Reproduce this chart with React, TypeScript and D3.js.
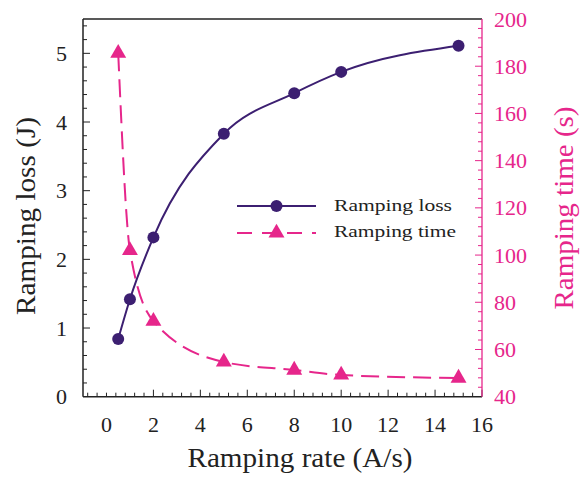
import React from "react";
import * as d3 from "d3";

const rates = [0.5, 1, 2, 5, 8, 10, 15];
const lossValues = [0.84, 1.42, 2.32, 3.83, 4.42, 4.73, 5.11];
const timeValues = [185.5, 102, 72, 54.7, 51.3, 49.2, 47.9];
const xTickLabels = [0, 2, 4, 6, 8, 10, 12, 14, 16];
const leftTickLabels = [0, 1, 2, 3, 4, 5];
const rightTickLabels = [40, 60, 80, 100, 120, 140, 160, 180, 200];
const seriesNames = ["Ramping loss", "Ramping time"];

const PURPLE = "#3c1f71";
const PINK = "#e6268b";
const FONT = "Liberation Serif, DejaVu Serif, serif";

export default function App() {
  const W = 581, H = 479;
  const L = 83, R = 482, T = 19, B = 396.7;
  const x = d3.scaleLinear().domain([-1, 16]).range([L, R]);
  const yL = d3.scaleLinear().domain([0, 5.5]).range([B, T]);
  const yR = d3.scaleLinear().domain([40, 200]).range([B, T]);

  const lossLine = d3
    .line<number>()
    .x((_, i) => x(rates[i]))
    .y((d) => yL(d))
    .curve(d3.curveMonotoneX);
  const timeLine = d3
    .line<number>()
    .x((_, i) => x(rates[i]))
    .y((d) => yR(d))
    .curve(d3.curveMonotoneX);

  const xMinor = d3.range(-0.8, 16.0001, 0.4).map((v) => Math.round(v * 10) / 10);
  const lMinor = d3.range(0.2, 5.5, 0.2).map((v) => Math.round(v * 10) / 10);
  const rMinor = d3.range(44, 200, 4);

  const tri = d3.symbol().type(d3.symbolTriangle).size(110)();

  const legX1 = 237, legX2 = 316, legY1 = 206, legY2 = 233;
  const ts = { fontFamily: FONT };

  return (
    <svg
      width={W}
      height={H}
      style={{ position: "absolute", left: 0, top: 0, background: "#fff", fontFamily: FONT }}
    >
      {/* minor ticks */}
      {xMinor.map((v) => {
        const major = xTickLabels.includes(v) && v !== 0;
        return (
          <line key={"xm" + v} x1={x(v)} x2={x(v)} y1={B} y2={B - (major ? 7 : 4)} stroke="#222" strokeWidth={1} />
        );
      })}
      {lMinor.map((v) => {
        const major = leftTickLabels.includes(v);
        return (
          <line key={"lm" + v} x1={L} x2={L + (major ? 7 : 4)} y1={yL(v)} y2={yL(v)} stroke="#222" strokeWidth={1} />
        );
      })}
      {rMinor.map((v) => {
        const major = rightTickLabels.includes(v);
        return (
          <line key={"rm" + v} x1={R} x2={R - (major ? 7 : 4)} y1={yR(v)} y2={yR(v)} stroke={PINK} strokeWidth={1} />
        );
      })}

      {/* frame */}
      <line x1={L} x2={R} y1={T} y2={T} stroke="#222" strokeWidth={1.3} />
      <line x1={L} x2={R} y1={B} y2={B} stroke="#222" strokeWidth={1.5} />
      <line x1={L} x2={L} y1={T} y2={B} stroke="#222" strokeWidth={1.5} />
      <line x1={R} x2={R} y1={T} y2={B} stroke={PINK} strokeWidth={1.3} />

      {/* tick labels */}
      {xTickLabels.map((v) => (
        <text key={"xl" + v} x={x(v)} y={432} textAnchor="middle" fontSize={22} fill="#222" style={ts}>
          {v}
        </text>
      ))}
      {leftTickLabels.map((v) => (
        <text key={"ll" + v} x={67} y={yL(v) + 7.5} textAnchor="end" fontSize={22} fill="#222" style={ts}>
          {v}
        </text>
      ))}
      {rightTickLabels.map((v) => (
        <text key={"rl" + v} x={494} y={yR(v) + 7.5} textAnchor="start" fontSize={22} fill={PINK} style={ts}>
          {v}
        </text>
      ))}

      {/* axis titles */}
      <text x={300} y={467} textAnchor="middle" fontSize={27} fill="#222" style={ts} textLength={225} lengthAdjust="spacingAndGlyphs">
        Ramping rate (A/s)
      </text>
      <text transform={`translate(35,216) rotate(-90)`} textAnchor="middle" fontSize={27} fill="#222" style={ts} textLength={198} lengthAdjust="spacingAndGlyphs">
        Ramping loss (J)
      </text>
      <text transform={`translate(573,208) rotate(-90)`} textAnchor="middle" fontSize={27} fill={PINK} style={ts} textLength={203} lengthAdjust="spacingAndGlyphs">
        Ramping time (s)
      </text>

      {/* series */}
      <path d={timeLine(timeValues) || ""} fill="none" stroke={PINK} strokeWidth={2} strokeDasharray="18 8" />
      {timeValues.map((v, i) => (
        <path key={"t" + i} d={tri || ""} transform={`translate(${x(rates[i])},${yR(v)})`} fill={PINK} />
      ))}
      <path d={lossLine(lossValues) || ""} fill="none" stroke={PURPLE} strokeWidth={2} />
      {lossValues.map((v, i) => (
        <circle key={"c" + i} cx={x(rates[i])} cy={yL(v)} r={6} fill={PURPLE} />
      ))}

      {/* legend */}
      <line x1={legX1} x2={legX2} y1={legY1} y2={legY1} stroke={PURPLE} strokeWidth={2} />
      <circle cx={(legX1 + legX2) / 2} cy={legY1} r={6} fill={PURPLE} />
      <text x={334} y={211} fontSize={17} fill="#222" style={ts} textLength={118} lengthAdjust="spacingAndGlyphs">
        {seriesNames[0]}
      </text>
      <line x1={legX1} x2={legX2} y1={legY2} y2={legY2} stroke={PINK} strokeWidth={2} strokeDasharray="15 10" />
      <path d={tri || ""} transform={`translate(${(legX1 + legX2) / 2},${legY2})`} fill={PINK} />
      <text x={334} y={237} fontSize={17} fill="#222" style={ts} textLength={122} lengthAdjust="spacingAndGlyphs">
        {seriesNames[1]}
      </text>
    </svg>
  );
}
